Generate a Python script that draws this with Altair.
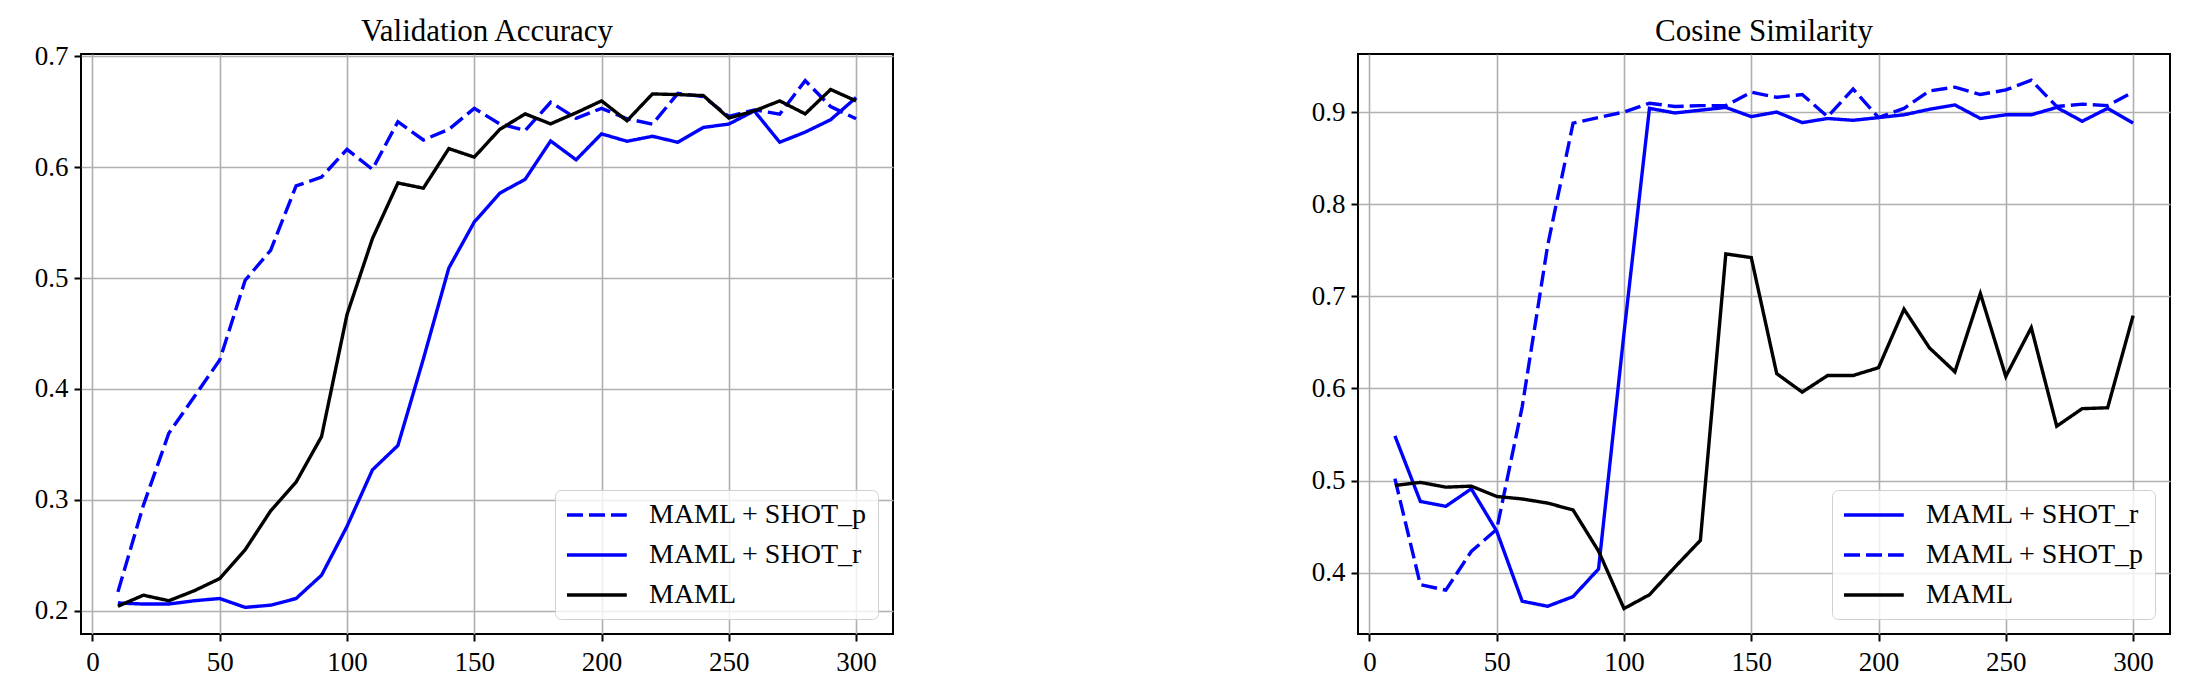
import altair as alt
import pandas as pd

steps = list(range(10, 301, 10))

# Validation Accuracy
acc_shot_p = [0.217, 0.295, 0.360, 0.393, 0.426, 0.498, 0.525, 0.583, 0.591, 0.616,
              0.598, 0.641, 0.6245, 0.634, 0.653, 0.639, 0.633, 0.6585, 0.644, 0.653,
              0.6436, 0.6388, 0.6665, 0.6636, 0.6457, 0.6516, 0.6477, 0.678, 0.6546, 0.6436]
acc_shot_r = [0.207, 0.206, 0.206, 0.209, 0.211, 0.203, 0.205, 0.211, 0.232, 0.276,
              0.327, 0.349, 0.427, 0.509, 0.5505, 0.5765, 0.589, 0.6236, 0.6066, 0.630,
              0.6233, 0.6278, 0.6224, 0.6358, 0.6388, 0.6507, 0.6224, 0.6316, 0.6427, 0.6627]
acc_maml = [0.204, 0.214, 0.209, 0.218, 0.229, 0.255, 0.290, 0.316, 0.357, 0.467,
            0.5356, 0.5857, 0.581, 0.6167, 0.609, 0.634, 0.648, 0.639, 0.649, 0.6597,
            0.6418, 0.666, 0.6654, 0.6645, 0.6442, 0.6507, 0.6597, 0.648, 0.670, 0.6597]

# Cosine Similarity
cos_shot_r = [0.5485, 0.4773, 0.472, 0.491, 0.445, 0.369, 0.3635, 0.374, 0.404, 0.66,
              0.904, 0.899, 0.902, 0.905, 0.895, 0.900, 0.8885, 0.893, 0.891, 0.894,
              0.897, 0.903, 0.9077, 0.893, 0.897, 0.897, 0.905, 0.890, 0.904, 0.888]
cos_shot_p = [0.502, 0.387, 0.381, 0.423, 0.447, 0.58, 0.755, 0.888, 0.894, 0.900,
              0.9096, 0.906, 0.907, 0.907, 0.9215, 0.916, 0.919, 0.895, 0.925, 0.894,
              0.904, 0.923, 0.927, 0.919, 0.924, 0.9345, 0.906, 0.9086, 0.907, 0.9215]
cos_maml = [0.4946, 0.498, 0.4928, 0.4939, 0.4827, 0.480, 0.4755, 0.468, 0.4234, 0.361,
            0.376, 0.406, 0.435, 0.746, 0.742, 0.616, 0.596, 0.614, 0.614, 0.6225,
            0.686, 0.644, 0.618, 0.703, 0.613, 0.666, 0.559, 0.578, 0.579, 0.679]

acc_ticks = [0.2, 0.3, 0.4, 0.5, 0.6, 0.7]
cos_ticks = [0.4, 0.5, 0.6, 0.7, 0.8, 0.9]
x_ticks = [0, 50, 100, 150, 200, 250, 300]

FONT = "Liberation Serif"
W, H = 812, 580

style = {
    "MAML + SHOT_p": ("#0000ff", [16, 6]),
    "MAML + SHOT_r": ("#0000ff", [1, 0]),
    "MAML": ("#000000", [1, 0]),
}


def panel(title, series, order, ydomain, yticks):
    colors = [style[n][0] for n in order]
    dashes = [style[n][1] for n in order]
    layers = []
    for name in order:
        df = pd.DataFrame({"step": steps, "value": series[name], "series": name})
        layers.append(
            alt.Chart(df).mark_line(strokeWidth=3.4, clip=True).encode(
                x=alt.X("step:Q", scale=alt.Scale(domain=[-4.5, 314.5], nice=False, zero=False),
                        axis=alt.Axis(values=x_ticks, title=None, format="d")),
                y=alt.Y("value:Q", scale=alt.Scale(domain=ydomain, nice=False, zero=False),
                        axis=alt.Axis(values=yticks, title=None, format=".1f")),
                color=alt.Color("series:N", scale=alt.Scale(domain=order, range=colors),
                                legend=alt.Legend(title=None)),
                strokeDash=alt.StrokeDash("series:N", scale=alt.Scale(domain=order, range=dashes),
                                          legend=alt.Legend(title=None)),
            )
        )
    title_layer = alt.Chart(pd.DataFrame({"t": [title]})).mark_text(
        font=FONT, fontSize=31, color="black", baseline="alphabetic", align="center"
    ).encode(text="t:N", x=alt.value(W / 2), y=alt.value(-13))
    layers.append(title_layer)
    return alt.layer(*layers).properties(width=W, height=H)


left = panel("Validation Accuracy",
             {"MAML + SHOT_p": acc_shot_p, "MAML + SHOT_r": acc_shot_r, "MAML": acc_maml},
             ["MAML + SHOT_p", "MAML + SHOT_r", "MAML"],
             [0.179, 0.702], acc_ticks)
right = panel("Cosine Similarity",
              {"MAML + SHOT_r": cos_shot_r, "MAML + SHOT_p": cos_shot_p, "MAML": cos_maml},
              ["MAML + SHOT_r", "MAML + SHOT_p", "MAML"],
              [0.3334, 0.963], cos_ticks)

chart = alt.hconcat(left, right, spacing=465, bounds="flush").resolve_scale(
    color="independent", strokeDash="independent", y="independent"
).resolve_legend(color="independent", strokeDash="independent").properties(
    padding={"left": 25, "top": 7, "right": 5, "bottom": 5},
    background="white",
).configure_view(
    stroke="black", strokeWidth=2
).configure_axis(
    labelFont=FONT, labelFontSize=27, labelColor="black",
    tickColor="black", tickSize=7, tickWidth=2,
    gridColor="#b0b0b0", gridWidth=1.6, domain=False, labelPadding=6,
).configure_axisX(
    labelPadding=8,
).configure_legend(
    orient="bottom-right", offset=15, padding=10,
    strokeColor="#d0d0d0", fillColor="rgba(255,255,255,0.8)", cornerRadius=6,
    labelFont=FONT, labelFontSize=28, labelColor="black", labelLimit=0,
    symbolType="M-1,0H3.6", symbolSize=676, symbolStrokeWidth=3.6,
    rowPadding=11, labelOffset=54,
)

chart.save("out.html", embed_options={"renderer": "svg", "actions": False})
